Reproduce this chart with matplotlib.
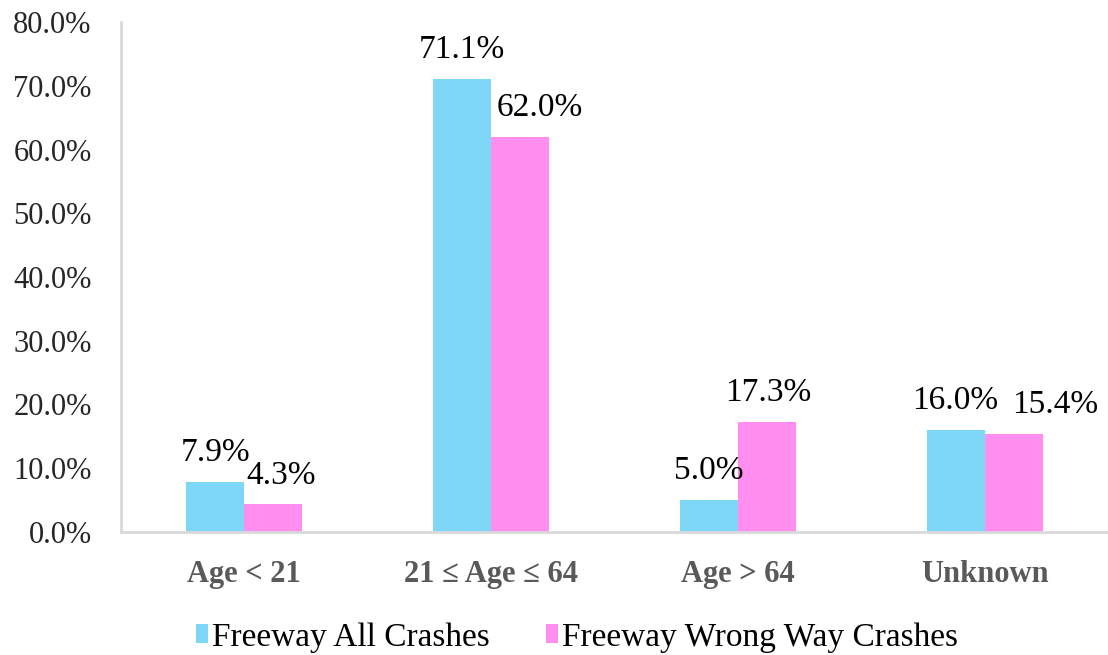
import numpy as np
import matplotlib
matplotlib.use("Agg")
import matplotlib.pyplot as plt

plt.rcParams['font.family'] = ['Liberation Serif', 'DejaVu Serif']

categories = ['Age < 21', '21 ≤ Age ≤ 64', 'Age > 64', 'Unknown']
all_crashes = [7.9, 71.1, 5.0, 16.0]
wrong_way = [4.3, 62.0, 17.3, 15.4]
series_names = ['Freeway All Crashes', 'Freeway Wrong Way Crashes']

# label x shifts in points (to mimic the original placement)
shift_all = [0, 0, 0, 0]
shift_ww = [6, 14, 1, 30]

fig = plt.figure(figsize=(11.08, 6.55), dpi=100)
ax = fig.add_axes([0.109, 0.188, 0.891, 0.778])

x = np.arange(len(categories))
width = 0.235
b1 = ax.bar(x - width / 2, all_crashes, width, color='#7FD7F7', label=series_names[0])
b2 = ax.bar(x + width / 2, wrong_way, width, color='#FF8EF0', label=series_names[1])

for bars, vals, sh in ((b1, all_crashes, shift_all), (b2, wrong_way, shift_ww)):
    for bar, v, s in zip(bars, vals, sh):
        ax.annotate('%.1f%%' % v, (bar.get_x() + bar.get_width() / 2, v),
                    xytext=(s, 15), textcoords='offset points',
                    ha='center', va='baseline', fontsize=24, color='black')

ax.set_xlim(-0.5, 3.5)
ax.set_ylim(0, 80)
ax.set_yticks(np.arange(0, 81, 10))
ax.set_yticklabels(['%.1f%%' % t for t in np.arange(0, 81, 10)], fontsize=22, color='#262626')
ax.set_xticks(x)
ax.set_xticklabels(categories, fontsize=22, fontweight='bold', color='#595959')
ax.tick_params(axis='both', length=0)
ax.tick_params(axis='y', pad=21)
ax.tick_params(axis='x', pad=20)

for s in ['top', 'right']:
    ax.spines[s].set_visible(False)
for s in ['left', 'bottom']:
    ax.spines[s].set_color('#D9D9D9')
    ax.spines[s].set_linewidth(2)

fig.legend(loc='center', bbox_to_anchor=(0.521, 0.027), ncol=2, frameon=False,
           fontsize=24, handlelength=0.35, handleheight=0.5, columnspacing=1.7,
           handletextpad=0.12)

fig.savefig('out.png', dpi=100)
